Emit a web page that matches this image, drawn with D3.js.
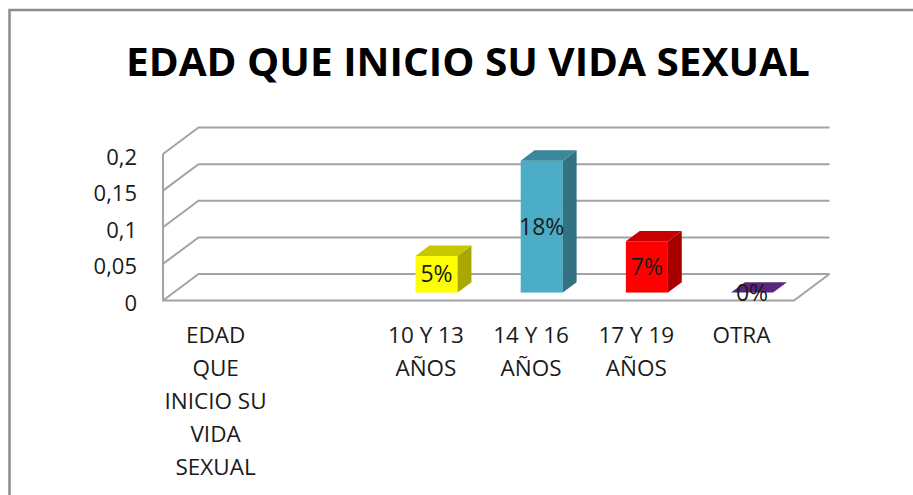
<!DOCTYPE html>
<html>
<head>
<meta charset="utf-8">
<script src="https://cdn.jsdelivr.net/npm/d3@7"></script>
<style>
  body { margin: 0; background: #fff; }
  text { font-family: "Open Sans", "Noto Sans", sans-serif; }
</style>
</head>
<body>
<div id="chart"></div>
<script>
// data
const title = "EDAD QUE INICIO SU VIDA SEXUAL";
const categories = ["EDAD\nQUE\nINICIO SU\nVIDA\nSEXUAL", " ", "10 Y 13\nAÑOS", "14 Y 16\nAÑOS", "17 Y 19\nAÑOS", "OTRA"];
const values = [null, null, 0.05, 0.18, 0.07, 0];
const yTicks = [0, 0.05, 0.1, 0.15, 0.2];
const barColors = ["#ffffff", "#ffffff", "#FFFF00", "#4BACC6", "#FF0000", "#7030A0"];

const W = 913, H = 495;
const DX = 35.5, DY = 26.5; // depth of the 3d box
const front = 0.3, back = 0.69; // where the bars sit in depth

const svg = d3.select("#chart").append("svg").attr("width", W).attr("height", H);

// chart frame
svg.append("path")
  .attr("d", `M9.5,${H + 5} L9.5,10 L${W + 5},10`)
  .attr("fill", "none").attr("stroke", "#8c8c8c").attr("stroke-width", 2.5);

svg.append("text")
  .attr("x", 468).attr("y", 76)
  .attr("text-anchor", "middle")
  .attr("font-size", 40).attr("font-weight", "bold")
  .attr("textLength", 684).attr("lengthAdjust", "spacingAndGlyphs")
  .attr("fill", "#000")
  .text(title);

const x = d3.scaleBand().domain(categories).range([163, 794]);
const y = d3.scaleLinear().domain([0, 0.2]).range([300.5, 154]);
const color = d3.scaleOrdinal().domain(categories).range(barColors);

const esLocale = d3.formatLocale({ decimal: ",", thousands: ".", grouping: [3], currency: ["", "€"] });
const tickFmt = esLocale.format("~g");
const pct = d3.format(".0%");

const gridColor = "#a3a3a3";
const grid = svg.append("g").attr("fill", "none").attr("stroke", gridColor).attr("stroke-width", 2);

// back wall lines + side wall diagonals
yTicks.forEach((t) => {
  grid.append("path")
    .attr("d", `M163,${y(t)} L${163 + DX},${y(t) - DY} L${794 + DX},${y(t) - DY}`);
});
// side wall front edge and floor edges
grid.append("path").attr("d", `M163,${y(0.2)} L163,${y(0)} L794,${y(0)} L${794 + DX},${y(0) - DY}`);

// y axis labels
const yAxis = svg.append("g")
  .attr("transform", "translate(163,3)")
  .call(d3.axisLeft(y).tickValues(yTicks).tickFormat(tickFmt).tickSize(0).tickPadding(26));
yAxis.select(".domain").remove();
yAxis.selectAll("text")
  .attr("font-family", null)
  .attr("font-size", 22).attr("fill", "#1a1a1a");

// x axis labels
const xAxis = svg.append("g")
  .attr("transform", `translate(0,${y(0)})`)
  .call(d3.axisBottom(x).tickSize(0));
xAxis.select(".domain").remove();
xAxis.selectAll("text")
  .attr("font-family", null)
  .attr("font-size", 22.5).attr("fill", "#1a1a1a")
  .attr("y", 42).attr("dy", null)
  .each(function (d) {
    const t = d3.select(this).text("");
    d.split("\n").forEach((line, i) => {
      t.append("tspan").attr("x", 0).attr("dy", i ? 33 : 0).text(line);
    });
  });

// 3d bars
const shade = (c, k) => {
  const r = d3.rgb(c);
  return d3.rgb(r.r * k, r.g * k, r.b * k).formatHex();
};
const bw = x.bandwidth() * 0.4;
const ddx = (back - front) * DX, ddy = (back - front) * DY;
const barData = categories.map((c, i) => ({ c, v: values[i] })).filter((d) => d.v !== null);

const bars = svg.append("g").selectAll("g").data(barData).join("g");
bars.each(function (d) {
  const g = d3.select(this);
  const x0 = x(d.c) + (x.bandwidth() - bw) / 2 + front * DX;
  const x1 = x0 + bw;
  const yb = y(0) - front * DY;
  const yt = y(d.v) - front * DY;
  const col = color(d.c);
  if (d.v > 0) {
    g.append("rect").attr("x", x0).attr("y", yt).attr("width", bw).attr("height", yb - yt).attr("fill", col);
    g.append("path")
      .attr("d", `M${x1},${yb} L${x1 + ddx},${yb - ddy} L${x1 + ddx},${yt - ddy} L${x1},${yt}Z`)
      .attr("fill", shade(col, 0.66));
  }
  g.append("path")
    .attr("d", `M${x0},${yt} L${x1},${yt} L${x1 + ddx},${yt - ddy} L${x0 + ddx},${yt - ddy}Z`)
    .attr("fill", shade(col, 0.78));
  g.append("text")
    .attr("x", (x0 + x1) / 2)
    .attr("y", d.v > 0 ? (yt + yb) / 2 : yb)
    .attr("dy", "0.35em")
    .attr("text-anchor", "middle")
    .attr("font-size", 23).attr("fill", "#1a1a1a")
    .text(pct(d.v));
});
</script>
</body>
</html>
